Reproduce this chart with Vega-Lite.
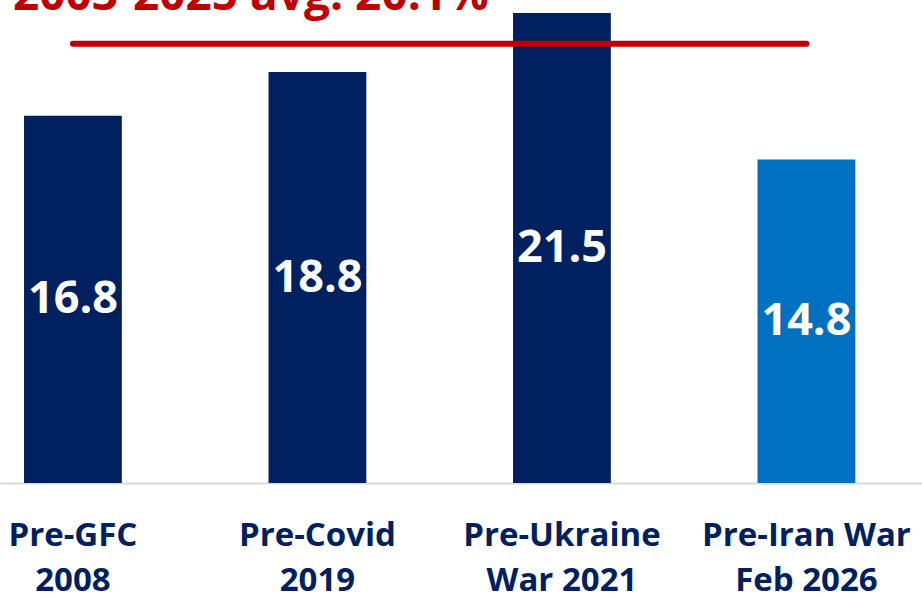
{
  "$schema": "https://vega.github.io/schema/vega-lite/v6.json",
  "width": 922,
  "height": 483,
  "autosize": "none",
  "padding": {"top": 0, "left": 0, "right": 0, "bottom": 116},
  "background": "white",
  "config": {"view": {"stroke": null}},
  "datasets": {
    "bars": [
      {"period": "Pre-GFC\n2008", "value": 16.8, "group": "Historical"},
      {"period": "Pre-Covid\n2019", "value": 18.8, "group": "Historical"},
      {"period": "Pre-Ukraine\nWar 2021", "value": 21.5, "group": "Historical"},
      {"period": "Pre-Iran War\nFeb 2026", "value": 14.8, "group": "Current"}
    ],
    "avg": [
      {"start": "Pre-GFC\n2008", "end": "Pre-Iran War\nFeb 2026", "avg": 20.1, "note": "2003-2025 avg: 20.1%"}
    ]
  },
  "layer": [
    {
      "data": {"name": "bars"},
      "mark": {"type": "bar"},
      "encoding": {
        "x": {
          "field": "period",
          "type": "nominal",
          "sort": ["Pre-GFC\n2008", "Pre-Covid\n2019", "Pre-Ukraine\nWar 2021", "Pre-Iran War\nFeb 2026"],
          "scale": {"domain": ["Pre-GFC\n2008", "Pre-Covid\n2019", "Pre-Ukraine\nWar 2021", "Pre-Iran War\nFeb 2026"], "paddingInner": 0.6, "paddingOuter": 0.1855, "align": 0.265},
          "axis": {
            "title": null,
            "labelAngle": 0,
            "labelExpr": "split(datum.label, '\\n')",
            "labelFont": "Open Sans",
            "labelFontSize": 33,
            "labelFontWeight": "bold",
            "labelColor": "#002060",
            "labelLineHeight": 45,
            "labelPadding": 36,
            "labelLimit": 0,
            "labelOverlap": false,
            "ticks": false,
            "domainColor": "#d9d9d9",
            "domainWidth": 2,
            "grid": false
          }
        },
        "y": {
          "field": "value",
          "type": "quantitative",
          "scale": {"domain": [0, 22.1]},
          "axis": null
        },
        "color": {
          "field": "group",
          "type": "nominal",
          "scale": {"domain": ["Historical", "Current"], "range": ["#002060", "#0070c0"]},
          "legend": null
        }
      }
    },
    {
      "data": {"name": "avg"},
      "mark": {"type": "rule", "color": "#c00000", "strokeWidth": 6, "strokeCap": "round"},
      "encoding": {
        "x": {"field": "start", "type": "nominal"},
        "x2": {"field": "end"},
        "y": {"field": "avg", "type": "quantitative", "scale": {"domain": [0, 22.1]}, "axis": null}
      }
    },
    {
      "data": {"name": "avg"},
      "mark": {"type": "text", "color": "#c00000", "font": "Open Sans", "fontSize": 46, "fontWeight": "bold", "align": "left", "baseline": "alphabetic", "dx": -60, "dy": -33.7},
      "encoding": {
        "x": {"field": "start", "type": "nominal"},
        "y": {"field": "avg", "type": "quantitative", "scale": {"domain": [0, 22.1]}, "axis": null},
        "text": {"field": "note", "type": "nominal"}
      }
    },
    {
      "data": {"name": "bars"},
      "mark": {"type": "text", "color": "white", "font": "Open Sans", "fontSize": 45, "fontWeight": "bold", "baseline": "middle", "align": "center"},
      "encoding": {
        "x": {"field": "period", "type": "nominal"},
        "y": {"field": "value", "type": "quantitative", "scale": {"domain": [0, 44.2]}, "axis": null},
        "text": {"field": "value", "type": "quantitative", "format": ".1f"}
      }
    }
  ],
  "resolve": {"scale": {"y": "independent"}}
}
